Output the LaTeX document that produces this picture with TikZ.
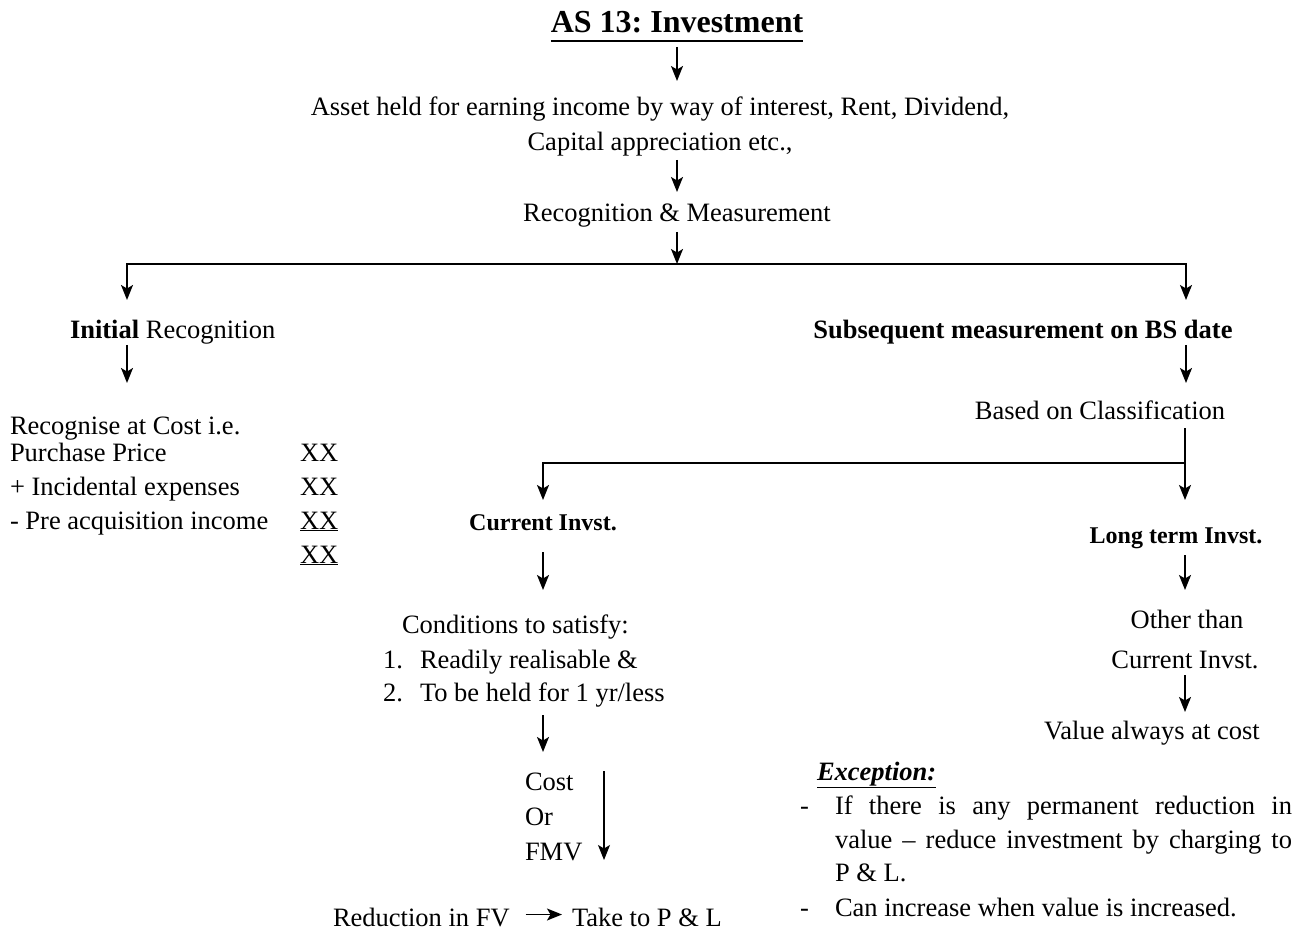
\documentclass[tikz,border=0pt]{standalone}
\usepackage{fontspec}
\setmainfont{Liberation Serif}
\usetikzlibrary{arrows.meta,calc}
\frenchspacing
\begin{document}
\begin{tikzpicture}[x=1pt,y=-1pt,
  every node/.style={inner sep=0pt, outer sep=0pt},
  txt/.style={anchor=base, font=\fontsize{26.5}{34}\selectfont, text height=19pt, text depth=6pt},
  txtl/.style={txt, anchor=base west},
  smallbold/.style={anchor=base, font=\fontsize{24}{30}\selectfont\bfseries, text height=17pt, text depth=5pt},
  conn/.style={line width=1.6pt, -{Stealth[length=15pt,width=12pt,inset=3.5pt]}},
  thinconn/.style={line width=1.1pt, -{Stealth[length=15pt,width=12pt,inset=3.5pt]}}]
\useasboundingbox (0,0) rectangle (1307,933);

% heading and top chain
\node[anchor=base, font=\fontsize{32}{36}\selectfont\bfseries, text height=22pt, text depth=8pt] (title) at (677,33) {AS 13: Investment};
\draw[line width=1.3pt] (title.south west) -- (title.south east);
\node[txt] (asseta) at (660,116) {Asset held for earning income by way of interest, Rent, Dividend,};
\node[txt] (assetb) at (660,151) {Capital appreciation etc.,};
\node[txt] (rm) at (677,222) {Recognition \& Measurement};
\coordinate (f1) at (677,264);
\coordinate (initTop) at (127,300);
\coordinate (subTop) at (1186,300);

% left branch: initial recognition
\node[txtl] (init) at (70,338) {\textbf{Initial} Recognition};
\node[txtl] (recog) at (10,434) {Recognise at Cost i.e.};
\node[txtl] (pp) at (10,461) {Purchase Price};
\node[txtl] (inc) at (10,495) {+ Incidental expenses};
\node[txtl] (pre) at (10,529) {- Pre acquisition income};
\node[txtl] (xa) at (300,461) {XX};
\node[txtl] (xb) at (300,495) {XX};
\node[txtl] (xc) at (300,529) {\underline{XX}};
\node[txtl] (xd) at (300,563) {\underline{XX}};

% right branch: subsequent measurement
\node[txt] (subs) at (1023,338) {\textbf{Subsequent measurement on BS date}};
\node[txt] (based) at (1100,419) {Based on Classification};
\coordinate (f2) at (1185,463);
\node[smallbold] (cur) at (543,530) {Current Invst.};
\node[smallbold] (long) at (1176,543) {Long term Invst.};

% current investments
\node[txtl] (cond) at (402,633) {Conditions to satisfy:};
\node[txtl] (n1) at (383,668) {1.};
\node[txtl] (c1) at (420,668) {Readily realisable \&};
\node[txtl] (n2) at (383,701) {2.};
\node[txtl] (c2) at (420,701) {To be held for 1 yr/less};
\node[txtl] (cost) at (525,790) {Cost};
\node[txtl] (or) at (525,825) {Or};
\node[txtl] (fmv) at (525,860) {FMV};
\coordinate (cfx) at (604,0);
\node[txtl] (red) at (333,926) {Reduction in FV};
\node[txtl] (take) at (572,926) {Take to P \& L};

% long term investments
\node[txt] (oth) at (1187,628) {Other than};
\node[txt] (cur2) at (1185,668) {Current Invst.};
\node[txt] (val) at (1152,739) {Value always at cost};
\node[txtl] (exc) at (817,780) {\underline{\textbf{\textit{Exception:}}}};
\node[txtl] (d1) at (800,814) {-};
\node[txtl] (e1) at (835,814) {\makebox[457pt][s]{If there is any permanent reduction in}};
\node[txtl] (e2) at (835,848) {\makebox[457pt][s]{value -- reduce investment by charging to}};
\node[txtl] (e3) at (835,881) {P \& L.};
\node[txtl] (d2) at (800,916) {-};
\node[txtl] (e4) at (835,916) {Can increase when value is increased.};

% connectors
\draw[conn, shorten <=6pt, shorten >=16pt] (title.south) -- (title.south |- asseta.north);
\draw[conn, shorten <=3pt, shorten >=11pt] (assetb.south -| rm.north) -- (rm.north);
\draw[conn, shorten <=4pt] (rm.south) -- (f1);
\draw[conn] (f1) -| (initTop);
\draw[conn] (f1) -| (subTop);
\draw[conn, shorten <=1pt, shorten >=32pt] (init.south -| initTop) -- (recog.north -| initTop);
\draw[conn, shorten <=1pt, shorten >=17pt] (subs.south -| subTop) -- (based.north -| subTop);
\draw[conn, shorten <=3pt, shorten >=26pt] (based.south -| f2) -- (long.north -| f2);
\draw[conn, shorten >=13pt] (f2) -| (cur.north);
\draw[conn, shorten <=17pt, shorten >=24pt] (cur.south) -- (cur.south |- cond.north);
\draw[conn, shorten <=8pt, shorten >=19pt] (c2.south -| cur.south) -- (cost.north -| cur.south);
\draw[thinconn, shorten >=6pt] (cost.north -| cfx) -- (fmv.south -| cfx);
\draw[conn, shorten <=16pt, shorten >=10pt] ([yshift=5pt]red.east) -- ([yshift=5pt]take.west);
\draw[conn, shorten <=7pt, shorten >=19pt] (long.south -| f2) -- (oth.north -| f2);
\draw[conn, shorten <=1pt, shorten >=8pt] (cur2.south -| f2) -- (val.north -| f2);
\end{tikzpicture}
\end{document}
